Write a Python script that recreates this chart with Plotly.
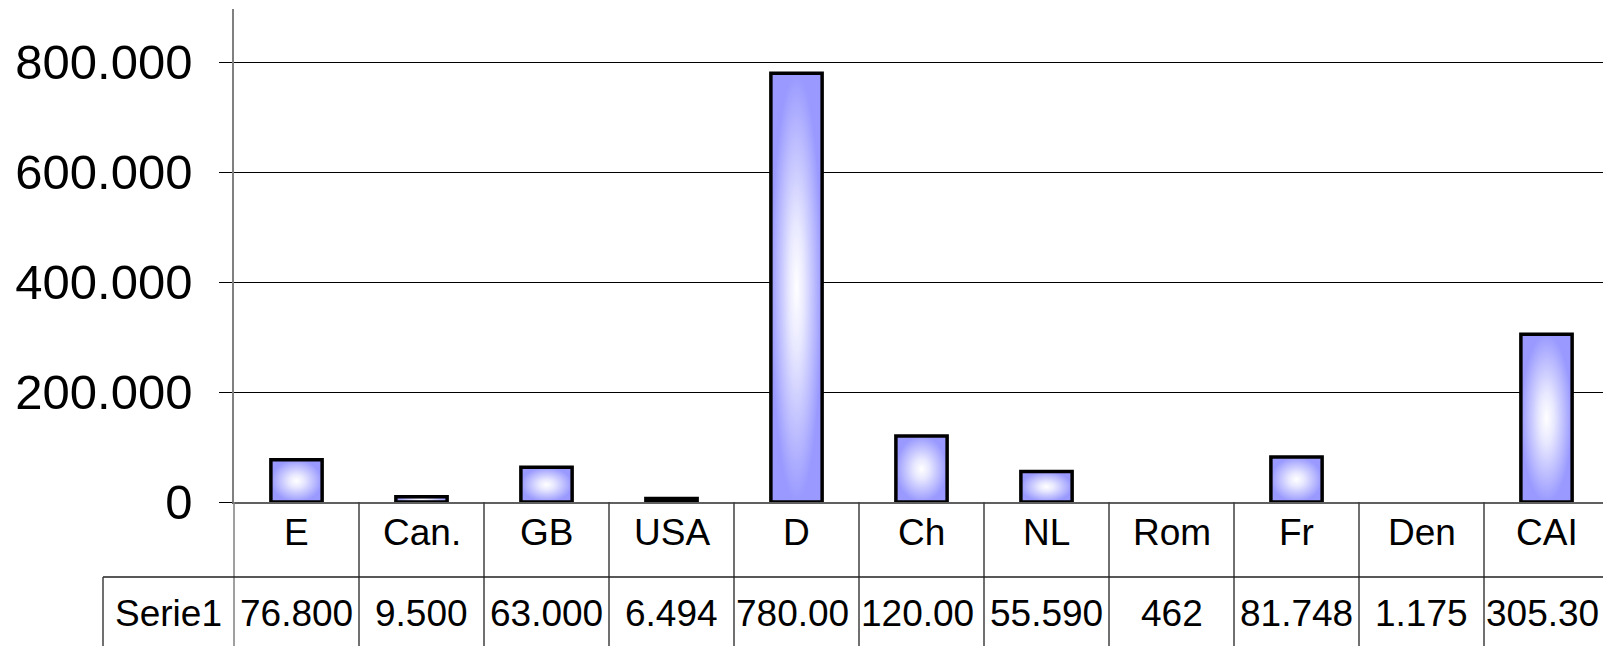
import plotly.graph_objects as go

categories = ["E", "Can.", "GB", "USA", "D", "Ch", "NL", "Rom", "Fr", "Den", "CAI"]
values = [76800, 9500, 63000, 6494, 780000, 120000, 55590, 462, 81748, 1175, 305300]
series_name = "Serie1"
y_ticks = [0, 200000, 400000, 600000, 800000]
y_max = 897000

OFF = 8  # default page body margin
W, H = 1611 - OFF, 646 - OFF
# target page pixel positions, converted into figure pixels
PL, PR, PT, PB = 234 - OFF, 1609 - OFF, 9 - OFF, 502 - OFF
TABLE_LEFT = 103 - OFF
ROW_SPLIT = 577 - OFF
CAT_Y = 532 - OFF
VAL_Y = 613 - OFF
FONT = "Liberation Sans, Arial, sans-serif"
FS = 37
BAR_W = 0.41
EDGE = "#9999FF"

# Arial-like advance widths (em) for truncating overflowing cell text
CHAR_W = {d: 0.556 for d in "0123456789"}
CHAR_W["."] = 0.278


def px_x(p):
    return (p - PL) / (PR - PL)


def px_y(p):
    return (PB - p) / (PB - PT)


def fmt(v):
    return f"{v:,}".replace(",", ".")


def fit(text, width_px):
    out = ""
    w = 0.0
    for ch in text:
        w += CHAR_W.get(ch, 0.556) * FS
        if w > width_px:
            break
        out += ch
    return out


fig = go.Figure()
n = len(categories)
px_per_unit = (PB - PT) / y_max
for i, v in enumerate(values):
    x0, x1 = i - BAR_W / 2, i + BAR_W / 2
    visible = v * px_per_unit >= 1
    fig.add_trace(go.Scatter(
        x=[x0, x0, x1, x1, x0], y=[0, v, v, 0, 0],
        mode="lines", fill="toself" if visible else "none",
        fillgradient=dict(type="radial", colorscale=[[0, "#FFFFFF"], [0.3, "#E8E8FF"], [1, EDGE]]),
        line=dict(color="black", width=3.5 if visible else 0),
        hoverinfo="skip", showlegend=False,
    ))

shapes = []
line_col = "#404040"
for k in range(n + 1):
    xp = k / n
    shapes.append(dict(type="line", xref="paper", yref="paper", x0=xp, x1=xp,
                       y0=px_y(PB), y1=px_y(H + 5),
                       line=dict(color="#808080" if k == 0 else line_col, width=1.5)))
shapes.append(dict(type="line", xref="paper", yref="paper", x0=px_x(TABLE_LEFT), x1=1,
                   y0=px_y(ROW_SPLIT), y1=px_y(ROW_SPLIT), line=dict(color="#202020", width=1.5)))
shapes.append(dict(type="line", xref="paper", yref="paper", x0=px_x(TABLE_LEFT), x1=px_x(TABLE_LEFT),
                   y0=px_y(ROW_SPLIT), y1=px_y(H + 5), line=dict(color=line_col, width=1.5)))

annotations = []
cell_w = (PR - PL) / n
for i, (c, v) in enumerate(zip(categories, values)):
    annotations.append(dict(x=(i + 0.5) / n, y=px_y(CAT_Y), xref="paper", yref="paper",
                            text=c, showarrow=False, font=dict(family=FONT, size=FS, color="black"),
                            xanchor="center", yanchor="middle"))
    full = fmt(v)
    t = fit(full, cell_w - 4)
    if t != full:
        annotations.append(dict(x=px_x(PL + i * cell_w + 1), y=px_y(VAL_Y), xref="paper", yref="paper",
                                text=t, showarrow=False, font=dict(family=FONT, size=FS, color="black"),
                                xanchor="left", yanchor="middle", borderpad=0))
    else:
        annotations.append(dict(x=(i + 0.5) / n, y=px_y(VAL_Y), xref="paper", yref="paper",
                                text=t, showarrow=False, font=dict(family=FONT, size=FS, color="black"),
                                xanchor="center", yanchor="middle"))
annotations.append(dict(x=px_x((TABLE_LEFT + PL) / 2), y=px_y(VAL_Y), xref="paper", yref="paper",
                        text=series_name, showarrow=False, font=dict(family=FONT, size=FS, color="black"),
                        xanchor="center", yanchor="middle"))

fig.update_layout(
    width=W, height=H,
    margin=dict(l=PL, r=W - PR, t=PT, b=H - PB),
    paper_bgcolor="white", plot_bgcolor="white",
    separators=",.",
    showlegend=False,
    shapes=shapes, annotations=annotations,
    xaxis=dict(range=[-0.5, n - 0.5], showticklabels=False, ticks="", showgrid=False,
               zeroline=False, showline=True, linecolor="#606060", linewidth=1.5, fixedrange=True),
    yaxis=dict(range=[0, y_max], tickvals=y_ticks, tickformat=",d",
               ticks="outside", ticklen=13, tickcolor="black", tickwidth=1,
               showgrid=True, gridcolor="black", gridwidth=1, zeroline=False,
               showline=True, linecolor="#808080", linewidth=1.5,
               tickfont=dict(family=FONT, size=49, color="black"), ticklabelstandoff=17,
               fixedrange=True),
)

fig.write_html("out.html")
